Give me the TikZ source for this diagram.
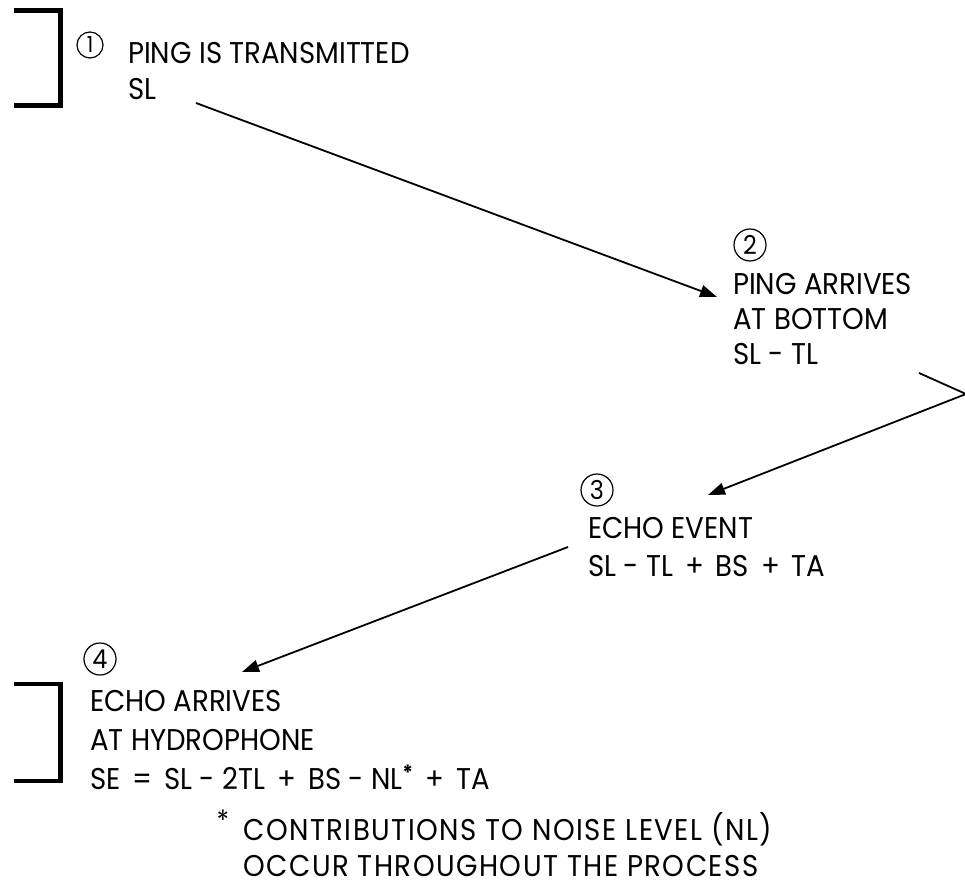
\documentclass[tikz,border=0pt]{standalone}
\usepackage{fontspec}
\setmainfont{Poppins}[FakeStretch=0.92]
\usetikzlibrary{arrows.meta}
\tikzset{every picture/.append style={x=1pt, y=-1pt}}
\tikzset{
    label text/.style={anchor=north west, inner sep=0pt, align=left,
        font=\fontsize{30}{38}\selectfont},
    step num/.style={circle, draw, line width=1.2pt, inner sep=0pt,
        minimum size=32pt, font=\fontsize{26}{26}\selectfont},
    bracket/.style={line width=4.5pt},
    arrow line/.style={line width=1.8pt, -{Triangle[length=17pt,width=12pt]}}
}
\newcommand{\gap}{\hspace{0.4em}}

\begin{document}
\begin{tikzpicture}
  \useasboundingbox (0,0) rectangle (965,890);

  % the four steps
  \node (n1) [step num, minimum size=26pt, font=\fontsize{22}{22}\selectfont] at (90,45) {1};
  \node (t1) [label text, font=\fontsize{30}{36}\selectfont] at (128,42) {PING IS TRANSMITTED\\SL};
  \node (n2) [step num] at (750,245) {2};
  \node (t2) [label text, font=\fontsize{30}{35}\selectfont] at (733,273) {PING ARRIVES\\AT BOTTOM\\SL - TL};
  \node (n3) [step num] at (597,490) {3};
  \node (t3) [label text] at (588,517) {ECHO EVENT\\SL - TL\gap+\gap BS\gap+\gap TA};
  \node (n4) [step num] at (100,659) {4};
  \node (t4) [label text, font=\fontsize{30}{39}\selectfont] at (90,690)
    {ECHO ARRIVES\\AT HYDROPHONE\\SE\gap=\gap SL - 2TL\gap+\gap BS - NL\textsuperscript{\textbf{*}}\gap+\gap TA};

  % footnote
  \node (star) [anchor=north, inner sep=0pt, font=\fontsize{28}{28}\selectfont] at (223,810) {*};
  \node (note) [label text, font=\fontsize{30}{36}\selectfont\addfontfeatures{LetterSpace=5}] at (243,812)
    {CONTRIBUTIONS TO NOISE LEVEL (NL)\\OCCUR THROUGHOUT THE PROCESS};

  % brackets
  \draw[bracket] (14,10.5) -- (60.5,10.5) -- (60.5,105.5) -- (14,105.5);
  \draw[bracket] (14,684) -- (60.5,684) -- (60.5,781) -- (14,781);

  % connectors
  \coordinate (s1) at (196,103); \coordinate (e1) at (717,297);
  \coordinate (s2) at (919,373); \coordinate (k2) at (966,394);
  \coordinate (e2) at (708,495);
  \coordinate (s3) at (568,547); \coordinate (e3) at (242,672);
  \draw[arrow line] (s1) -- (e1);
  \draw[arrow line] (s2) -- (k2) -- (e2);
  \draw[arrow line] (s3) -- (e3);

\end{tikzpicture}
\end{document}
